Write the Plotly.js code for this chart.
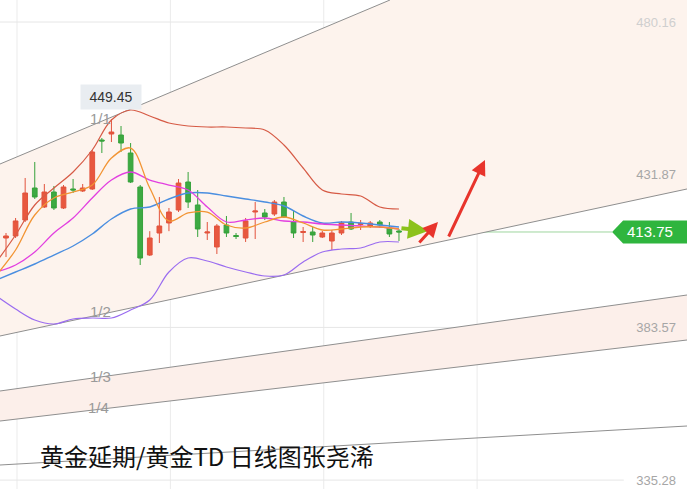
<!DOCTYPE html>
<html>
<head>
<meta charset="utf-8">
<script src="https://cdn.plot.ly/plotly-3.0.1.min.js"></script>
<style>html,body{margin:0;padding:0;background:#fff;}#chart{width:687px;height:489px;}</style>
</head>
<body>
<div id="chart"></div>
<script>
// ---- candle data (daily OHLC) ----
const candleIdx = [0,1,2,3,4,5,6,7,8,9,10,11,12,13,14,15,16,17,18,19,20,21,22,23,24,25,26,27,28,29,30,31,32,33,34,35,36,37,38,39,40,41];
const openP  = [411.85,412.49,417.54,427.66,421.65,426.40,421.34,427.35,426.72,427.35,442.84,444.74,444.42,438.73,427.98,406.47,413.43,416.60,420.71,429.56,422.29,413.43,409.01,415.96,412.64,411.85,420.07,419.76,419.44,423.23,416.91,413.59,413.75,412.17,410.90,413.43,416.91,416.12,415.65,416.91,415.01,414.07];
const highP  = [413.43,418.18,430.83,435.89,428.93,428.30,428.61,430.51,428.93,439.68,443.48,449.45,447.27,441.89,428.61,414.01,424.82,421.34,430.51,432.72,427.03,416.91,416.28,418.81,413.43,418.18,423.23,421.02,423.87,424.82,420.39,415.33,415.33,414.06,414.38,417.23,419.76,417.54,417.23,417.54,416.91,414.70];
const lowP   = [405.83,411.85,416.91,424.19,421.34,420.71,421.02,426.08,426.40,427.03,438.73,442.21,439.05,429.24,403.31,406.16,410.27,414.01,420.07,421.34,412.17,411.22,406.79,412.17,411.53,410.59,411.53,417.54,418.81,418.18,411.85,410.59,410.59,411.85,408.06,412.80,414.38,414.38,415.01,415.01,412.17,410.90];
const closeP = [412.49,417.24,426.08,424.82,426.40,421.34,427.98,427.03,427.66,439.05,442.53,445.37,441.89,429.56,405.52,411.85,415.65,420.07,429.24,423.23,414.70,413.75,415.65,413.43,412.33,417.24,420.39,418.49,423.23,418.49,413.43,413.91,412.80,413.43,413.43,416.60,414.70,416.44,416.60,415.96,413.12,413.75];

// ---- indicator lines (read at every second candle) ----
const lineIdx   = [-1,1,3,5,7,9,11,13,15,17,19,21,23,25,27,29,31,33,35,37,39,41];
const bollUpper = [404.26,412.80,422.29,427.66,432.72,439.68,449.17,452.33,450.43,448.22,447.27,446.96,446.96,446.64,446.01,441.26,433.99,427.03,425.77,425.13,421.65,421.02];
const bollLower = [393.51,389.40,385.92,384.65,386.24,386.55,386.55,389.08,392.24,401.10,405.52,404.58,402.68,401.10,399.84,400.15,404.26,407.42,408.37,408.69,410.59,410.59];
const ma5       = [400.15,408.06,419.12,424.50,426.40,428.61,437.15,440.31,427.66,417.23,419.76,420.07,415.96,415.01,416.91,418.49,416.60,414.38,414.70,415.33,415.33,414.70];
const ma10      = [401.10,403.31,407.42,413.43,418.18,424.50,430.19,432.72,430.19,428.61,427.03,421.65,416.91,417.54,418.18,417.23,416.91,416.28,415.96,415.65,415.33,414.70];
const ma20      = [398.57,401.10,403.63,406.47,409.32,413.12,417.86,421.02,421.65,424.19,426.08,426.08,425.13,424.19,423.23,421.97,418.81,416.60,416.91,416.60,415.96,415.33];

// ---- price axis ticks ----
const tickValues = [480.16,431.87,383.57,335.28];
const tickLabels = ['480.16','431.87','383.57','335.28'];
const tickColors = ['#cfcfcf','#a6a6a6','#a6a6a6','#a6a6a6'];
const lastPrice = 413.75;
const highLabel = '449.45';
const titleText = '黄金延期/黄金TD 日线图张尧浠';

// ---- trend channel lines [x0,y0,x1,y1] in (candle index, price) ----
const chanA = [-0.626,435.25,40.06,487.12];
const chanB = [-0.626,380.86,71.05,427.35];
const chanC = [-0.626,363.46,71.05,393.82];
const chanD = [-0.626,353.97,71.05,379.59];
const chanE = [-0.626,340.06,71.05,352.39];
const fracLabels = ['1/1','1/2','1/3','1/4'];
const fracX = [9.81,9.81,9.91,9.6];
const fracY = [449.80,388.76,368.20,358.09];

// ---- forecast arrows [tailX,tailY,headX,headY] ----
const arrowGreen = [41.1,415.01,44.03,414.06];
const arrowRed1  = [42.98,409.96,45.07,416.91];
const arrowRed2  = [46.11,411.85,49.97,436.52];

const XR = [-0.626, 71.05];
const YR = [332.47, 487.12];

const traces = [
  {type:'candlestick', x:candleIdx, open:openP, high:highP, low:lowP, close:closeP,
   increasing:{line:{color:'#e2533d',width:1}, fillcolor:'#e8583f'},
   decreasing:{line:{color:'#36a23b',width:1}, fillcolor:'#3daa42'},
   whiskerwidth:0, hoverinfo:'skip', showlegend:false},
  {type:'scatter', mode:'lines', x:lineIdx, y:bollUpper, line:{color:'#d65a45',width:1.2,shape:'spline'}, hoverinfo:'skip', showlegend:false},
  {type:'scatter', mode:'lines', x:lineIdx, y:bollLower, line:{color:'#9a6cf0',width:1.2,shape:'spline'}, hoverinfo:'skip', showlegend:false},
  {type:'scatter', mode:'lines', x:lineIdx, y:ma20, line:{color:'#4a8ee0',width:1.4,shape:'spline'}, hoverinfo:'skip', showlegend:false},
  {type:'scatter', mode:'lines', x:lineIdx, y:ma10, line:{color:'#e23fe0',width:1.3,shape:'spline'}, hoverinfo:'skip', showlegend:false},
  {type:'scatter', mode:'lines', x:lineIdx, y:ma5, line:{color:'#f29433',width:1.3,shape:'spline'}, hoverinfo:'skip', showlegend:false}
];

function poly(pts){ return 'M ' + pts.map(p=>p[0]+','+p[1]).join(' L ') + ' Z'; }

const shapes = [];
// upper channel tint
shapes.push({type:'path', xref:'x', yref:'y', layer:'below', line:{width:0}, fillcolor:'#fdf3ed',
  path: poly([[chanA[0],chanA[1]],[chanA[2],chanA[3]],[XR[1],YR[1]],[chanB[2],chanB[3]],[chanB[0],chanB[1]]])});
// lower band tint
shapes.push({type:'path', xref:'x', yref:'y', layer:'below', line:{width:0}, fillcolor:'#fcefea',
  path: poly([[chanC[0],chanC[1]],[chanC[2],chanC[3]],[chanD[2],chanD[3]],[chanD[0],chanD[1]]])});
// vertical grid
[1.15,17.15,33.15,49.15].forEach(v=>shapes.push({type:'line', xref:'x', yref:'paper', x0:v, x1:v, y0:0, y1:1, layer:'below', line:{color:'#ebebeb',width:1}}));
// horizontal grid at ticks
tickValues.forEach(v=>shapes.push({type:'line', xref:'paper', yref:'y', x0:0, x1:0.908, y0:v, y1:v, layer:'below', line:{color:'#e6e6e6',width:1}}));
// channel lines
[chanA,chanB,chanC,chanD,chanE].forEach(c=>shapes.push({type:'line', xref:'x', yref:'y', x0:c[0], y0:c[1], x1:c[2], y1:c[3], layer:'below', line:{color:'#8f8f8f',width:1}}));
// last price line
shapes.push({type:'line', xref:'paper', yref:'y', x0:0, x1:0.891, y0:lastPrice, y1:lastPrice, layer:'below', line:{color:'#9fd59f',width:1}});
// last price tag
shapes.push({type:'path', xref:'paper', yref:'y', line:{width:0}, fillcolor:'#2fb53e',
  path: poly([[0.891,lastPrice],[0.907,lastPrice+3.6],[1,lastPrice+3.6],[1,lastPrice-3.6],[0.907,lastPrice-3.6]])});

const annotations = [];
annotations.push({xref:'paper', yref:'y', x:0.946, y:lastPrice, xanchor:'center', yanchor:'middle', text:lastPrice.toFixed(2), showarrow:false,
  font:{family:'Liberation Sans, Arial, sans-serif', size:15, color:'#ffffff'}});
annotations.push({xref:'x', yref:'y', x:11, y:449.45, yshift:22, xanchor:'center', text:highLabel, showarrow:false,
  bgcolor:'#e9edf1', width:58, height:22, font:{family:'Liberation Sans, Arial, sans-serif', size:14, color:'#333333'}});
fracLabels.forEach((t,i)=>annotations.push({xref:'x', yref:'y', x:fracX[i], y:fracY[i], xanchor:'center', text:t, showarrow:false,
  font:{family:'Liberation Sans, Arial, sans-serif', size:15, color:'#9a9a9a'}}));
annotations.push({xref:'paper', yref:'paper', x:38/687, y:1-455/489, xanchor:'left', yanchor:'middle', text:titleText, showarrow:false,
  font:{family:'Noto Sans CJK SC, sans-serif', size:24, color:'#111111'}});
[[arrowGreen,'#8cc21c',4],[arrowRed1,'#e8342c',3],[arrowRed2,'#e8342c',3]].forEach(a=>{
  const c=a[0];
  annotations.push({xref:'x', yref:'y', axref:'x', ayref:'y', ax:c[0], ay:c[1], x:c[2], y:c[3], text:'', showarrow:true,
    arrowhead:2, arrowsize:1, arrowwidth:a[2], arrowcolor:a[1], standoff:0});
});

const layout = {
  width:687, height:489, autosize:false,
  margin:{l:0,r:0,t:0,b:0},
  paper_bgcolor:'#ffffff', plot_bgcolor:'#ffffff',
  showlegend:false, hovermode:false,
  xaxis:{range:XR, showgrid:false, zeroline:false, showticklabels:false, ticks:'', rangeslider:{visible:false}, fixedrange:true},
  yaxis:{range:YR, side:'right', ticklabelposition:'inside', tickvals:tickValues,
         ticktext:tickLabels.map((t,i)=>'<span style="color:'+tickColors[i]+'">'+t+'</span>'),
         showgrid:false, zeroline:false, ticks:'', ticklabelstandoff:8,
         tickfont:{family:'Liberation Sans, Arial, sans-serif', size:13, color:'#a6a6a6'}, fixedrange:true},
  shapes:shapes, annotations:annotations
};

Plotly.newPlot('chart', traces, layout, {displayModeBar:false, staticPlot:true});
</script>
</body>
</html>
